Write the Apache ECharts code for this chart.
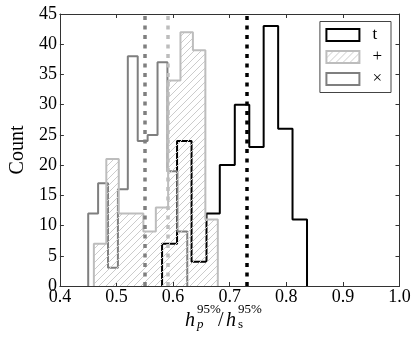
<!DOCTYPE html>
<html><head><meta charset="utf-8">
<script src="https://cdn.jsdelivr.net/npm/echarts@6/dist/echarts.min.js"></script>
<style>html,body{margin:0;padding:0;background:#fff}#c{width:416px;height:340px}</style>
</head><body><div id="c"></div>
<script>
// ---- data ----
const seriesNames = ['t', '+', '\u00d7'];
const tEdges = [0.5805, 0.607, 0.6326, 0.659, 0.6825, 0.709, 0.7346, 0.760, 0.7856, 0.811, 0.8366];
const tCounts = [7, 24, 4, 12, 20, 30, 23, 43, 26, 11];
const plusEdges = [0.46, 0.482, 0.504, 0.526, 0.5475, 0.5695, 0.5912, 0.613, 0.635, 0.657, 0.679];
const plusCounts = [7, 21, 12, 12, 9, 13, 34, 42, 39, 11];
const crossEdges = [0.45, 0.4675, 0.485, 0.5025, 0.52, 0.5375, 0.555, 0.5725, 0.59, 0.6075, 0.625];
const crossCounts = [12, 17, 3, 16, 38, 24, 25, 37, 19, 9];
const medians = [0.7272, 0.5904, 0.5465]; // t, +, x
const xRange = [0.4, 1.0, 0.1];
const yRange = [0, 45, 5];

// ---- helpers ----
function stepPoints(edges, counts) {
  const pts = [[edges[0], 0]];
  for (let i = 0; i < counts.length; i++) {
    pts.push([edges[i], counts[i]]);
    pts.push([edges[i + 1], counts[i]]);
  }
  pts.push([edges[edges.length - 1], 0]);
  return pts;
}
function hatchCanvas() {
  const s = 7, c = document.createElement('canvas');
  c.width = s; c.height = s;
  const g = c.getContext('2d');
  g.strokeStyle = '#cccccc'; g.lineWidth = 1;
  g.beginPath();
  g.moveTo(0, s); g.lineTo(s, 0);
  g.moveTo(-1, 1); g.lineTo(1, -1);
  g.moveTo(s - 1, s + 1); g.lineTo(s + 1, s - 1);
  g.stroke();
  return c;
}
const hatch = { image: hatchCanvas(), repeat: 'repeat' };
const SERIF = 'Liberation Serif';
const colT = '#000000', colPlus = '#bdbdbd', colCross = '#7f7f7f';
const axisCol = '#333333';

function medianLine(v, color) {
  return {
    silent: true, symbol: 'none', label: { show: false },
    lineStyle: { color: color, width: 3.5, type: [4, 5.5] },
    data: [{ xAxis: v }]
  };
}

const chart = echarts.init(document.getElementById('c'), null, { renderer: 'canvas' });
const axisBase = {
  type: 'value',
  axisLine: { show: true, onZero: false, lineStyle: { color: axisCol, width: 1 } },
  axisTick: { show: true, inside: true, length: 4, lineStyle: { color: axisCol, width: 1 } },
  splitLine: { show: false }
};
function txt(s, x, y, size, italic) {
  return { type: 'text', x: x, y: y, silent: true,
    style: { text: s, fontFamily: SERIF, fontSize: size, fontStyle: italic ? 'italic' : 'normal',
             fill: '#000', verticalAlign: 'middle' } };
}
chart.setOption({
  animation: false,
  backgroundColor: '#fff',
  textStyle: { fontFamily: SERIF },
  grid: { left: 46.5, right: 16.5, top: 14, bottom: 54 },
  xAxis: [
    Object.assign({}, axisBase, {
      min: xRange[0], max: xRange[1], interval: xRange[2], position: 'bottom',
      axisLabel: { formatter: v => v.toFixed(1), fontFamily: SERIF, fontSize: 18, color: '#000', margin: 2 }
    }),
    Object.assign({}, axisBase, {
      min: xRange[0], max: xRange[1], interval: xRange[2], position: 'top',
      axisLabel: { show: false }
    })
  ],
  yAxis: [
    Object.assign({}, axisBase, {
      min: yRange[0], max: yRange[1], interval: yRange[2], position: 'left',
      name: 'Count', nameLocation: 'middle', nameGap: 31,
      nameTextStyle: { fontFamily: SERIF, fontSize: 20, color: '#000' },
      axisLabel: { fontFamily: SERIF, fontSize: 18, color: '#000', margin: 3 }
    }),
    Object.assign({}, axisBase, {
      min: yRange[0], max: yRange[1], interval: yRange[2], position: 'right',
      axisLabel: { show: false }
    })
  ],
  legend: {
    orient: 'vertical', right: 25, top: 21.5,
    padding: [5, 9, 5, 5.5], itemWidth: 33, itemHeight: 12, itemGap: 5,
    backgroundColor: '#fff', borderColor: '#444', borderWidth: 1, borderRadius: 0,
    textStyle: { fontFamily: SERIF, fontSize: 17, color: '#000', lineHeight: 14, padding: [0, 0, 0, 8] },
    data: [
      { name: seriesNames[0], icon: 'rect', itemStyle: { color: '#fff', borderColor: colT, borderWidth: 2 } },
      { name: seriesNames[1], icon: 'rect', itemStyle: { color: hatch, borderColor: colPlus, borderWidth: 2 } },
      { name: seriesNames[2], icon: 'rect', itemStyle: { color: '#fff', borderColor: colCross, borderWidth: 2 } }
    ]
  },
  series: [
    {
      name: seriesNames[0], type: 'line', z: 2, showSymbol: false, symbol: 'none',
      data: stepPoints(tEdges, tCounts),
      lineStyle: { color: colT, width: 2 }, itemStyle: { color: colT },
      markLine: medianLine(medians[0], colT)
    },
    {
      name: seriesNames[2], type: 'line', z: 3, showSymbol: false, symbol: 'none',
      data: stepPoints(crossEdges, crossCounts),
      lineStyle: { color: colCross, width: 2 }, itemStyle: { color: colCross },
      markLine: medianLine(medians[2], colCross)
    },
    {
      name: seriesNames[1], type: 'line', z: 4, showSymbol: false, symbol: 'none',
      data: stepPoints(plusEdges, plusCounts),
      lineStyle: { color: colPlus, width: 2 }, itemStyle: { color: colPlus },
      areaStyle: { color: hatch, opacity: 1 },
      markLine: medianLine(medians[1], colPlus)
    }
  ],
  graphic: [
    txt('h', 185, 321, 20, true),
    txt('95%', 197, 310, 13, false),
    txt('p', 197, 325, 13, true),
    txt('/', 218, 321, 20, false),
    txt('h', 226, 321, 20, true),
    txt('95%', 238, 310, 13, false),
    txt('s', 238, 325, 13, false)
  ]
});
</script></body></html>
